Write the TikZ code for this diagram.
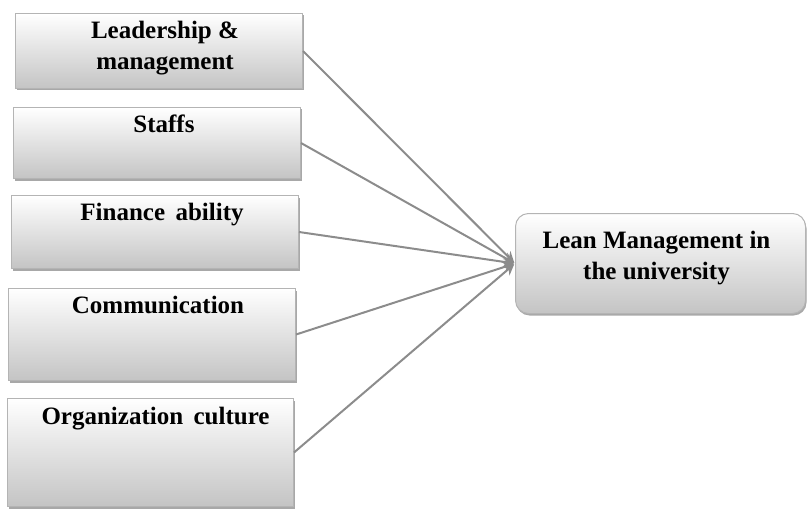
\documentclass[tikz,border=0pt]{standalone}
\usepackage{fontspec}
\setmainfont{Liberation Serif}
\usetikzlibrary{arrows.meta,shadows}
\definecolor{linegray}{HTML}{8C8C8C}
\definecolor{boxborder}{HTML}{B4B4B4}
\definecolor{boxbottom}{HTML}{C4C4C4}
\tikzset{
  box/.style={draw=boxborder, line width=1pt, rectangle, anchor=north west,
    top color=white, bottom color=boxbottom, inner sep=0pt,
    drop shadow={shadow xshift=1pt, shadow yshift=-2pt, fill=gray!75, opacity=0.9}},
  lbl/.style={font=\fontsize{25}{31}\selectfont\bfseries, align=center, inner sep=0pt},
  conn/.style={draw=linegray, line width=2pt, -{Stealth[length=11pt,width=11pt]}, shorten >=1pt}
}
\begin{document}
\begin{tikzpicture}[x=1pt,y=-1pt]
\useasboundingbox (0,0) rectangle (810,508);
\clip (0,0) rectangle (810,508);
\node[box, minimum width=287pt, minimum height=75pt] (b1) at (15,13) {};
\node[box, minimum width=287pt, minimum height=71pt] (b2) at (13,107) {};
\node[box, minimum width=287pt, minimum height=73pt] (b3) at (11,195) {};
\node[box, minimum width=287pt, minimum height=92pt] (b4) at (8,288) {};
\node[box, minimum width=286pt, minimum height=108pt] (b5) at (7,398) {};
\node[box, rounded corners=13pt, minimum width=290pt, minimum height=100pt] (lm) at (515,213) {};

\node[lbl] (t1) at ([xshift=6pt,yshift=3pt]b1.center) {Leadership \&\\management};
\node[lbl, anchor=base] (t2) at ([xshift=7pt,yshift=-25pt]b2.north) {Staffs};
\node[lbl, anchor=base] (t3) at ([xshift=7pt,yshift=-25pt]b3.north) {Finance\, ability};
\node[lbl, anchor=base] (t4) at ([xshift=6pt,yshift=-25pt]b4.north) {Communication};
\node[lbl, anchor=base] (t5) at ([xshift=5pt,yshift=-26pt]b5.north) {Organization\, culture};
\node[lbl] (t6) at ([xshift=-4pt,yshift=5pt]lm.center) {Lean Management in\\the university};

\draw[conn] (b1.east) -- (lm.west);
\draw[conn] (b2.east) -- (lm.west);
\draw[conn] (b3.east) -- (lm.west);
\draw[conn] (b4.east) -- (lm.west);
\draw[conn] (b5.east) -- (lm.west);
\end{tikzpicture}
\end{document}
